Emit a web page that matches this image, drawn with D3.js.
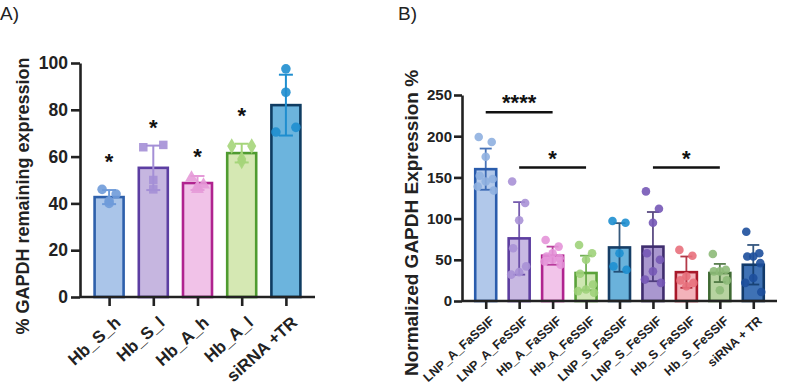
<!DOCTYPE html>
<html>
<head>
<meta charset="utf-8">
<script src="https://cdn.jsdelivr.net/npm/d3@7"></script>
<style>
  body { margin: 0; background: #fff; }
  text { font-family: "Liberation Sans", Arial, sans-serif; }
</style>
</head>
<body>
<script>
// ---- Panel A data ----
var catsA   = ["Hb_S_h", "Hb_S_l", "Hb_A_h", "Hb_A_l", "siRNA +TR"];
var meansA  = [42.7, 55.2, 48.7, 61.5, 82];
var sdA     = [3, 9.5, 3, 4, 13];
var pointsA = [
  [46, 44, 40, 41],
  [64, 65, 50, 46],
  [51, 47, 48, 46],
  [64.5, 64.5, 59, 58],
  [97.5, 87.5, 70.5, 72.5]
];
var sigA    = [60, 74.5, 62, 79.5];   // star heights over first four bars
var ticksA  = [0, 20, 40, 60, 80, 100];

// ---- Panel B data ----
var catsB   = ["LNP_A_FaSSIF", "LNP_A_FeSSIF", "Hb_A_FaSSIF", "Hb_A_FeSSIF", "LNP_S_FaSSIF",
               "LNP_S_FeSSIF", "Hb_S_FaSSIF", "Hb_S_FeSSIF", "siRNA + TR"];
var meansB  = [160, 76, 55, 34, 65, 66, 35, 34, 44];
var sdB     = [25, 44, 11, 21, 29.5, 42, 19, 11, 24];
var pointsB = [
  [199, 193, 175, 152, 148, 145, 139, 134],
  [145, 119, 98, 64, 42, 35, 32],
  [74, 66, 58, 54, 52, 50, 48, 44],
  [68, 58, 50, 33, 20, 14, 12, 10],
  [97, 95, 58, 42, 38],
  [133, 112, 95, 58, 50, 36, 26, 22],
  [62, 55, 30, 25, 22, 18],
  [57, 38, 36, 36, 25, 13],
  [84, 58, 54, 54, 46, 28, 22, 11]
];
var ticksB  = [0, 50, 100, 150, 200, 250];
var sigB    = [ {from: 0, to: 2, y: 229, label: "****"},
                {from: 1, to: 3, y: 162, label: "*"},
                {from: 5, to: 7, y: 162, label: "*"} ];

// colours
var fillA   = ["#aac5e9", "#c6b6e0", "#f1c2e8", "#d5e8b3", "#6cb4dd"];
var strokeA = ["#2e60ab", "#5c3ea2", "#b0238f", "#4f9b30", "#0f3c62"];
var dotA    = ["#6f9bd9", "#a48fd6", "#e59ad8", "#a5d57a", "#1f8ecf"];
var fillB   = ["#b1c8ea", "#c8b8e2", "#f2c4ea", "#cfe7b3", "#6ab2db", "#a997cf", "#f3b2ba", "#b7d3a0", "#3f72b5"];
var strokeB = ["#2a5cac", "#5d3ea0", "#b0248f", "#5aa23a", "#163e66", "#3f2d6e", "#a8182a", "#3f6a33", "#123a6a"];
var dotB    = ["#8fb0e0", "#a891d6", "#e493d8", "#9fd27a", "#1e8fd0", "#7658b6", "#e8707c", "#8dba78", "#1d4f9c"];

var svg = d3.select("body").append("svg")
    .attr("width", 787)
    .attr("height", 392);

var axisColor = "#222";

// panel letters
svg.append("text").attr("x", 0).attr("y", 20).text("A)")
    .attr("font-size", "19px").attr("fill", "#222");
svg.append("text").attr("x", 398).attr("y", 20).text("B)")
    .attr("font-size", "19px").attr("fill", "#222");

function styleAxis(g) {
  g.select(".domain").attr("stroke", axisColor).attr("stroke-width", 2.6);
  g.selectAll(".tick line").attr("stroke", axisColor).attr("stroke-width", 2.6);
  g.selectAll(".tick text").attr("fill", "#222").attr("font-weight", "bold")
    .attr("font-family", "'Liberation Sans', Arial, sans-serif");
}

////////////////////////////
// Panel A
var yA = d3.scaleLinear().domain([0, 100]).range([297, 63]);
var xA = d3.scalePoint().domain(catsA).range([87, 308]).padding(0.5);
var gA = svg.append("g");

gA.append("g")
    .attr("transform", "translate(80,0)")
    .call(d3.axisLeft(yA).tickValues(ticksA).tickSize(9).tickPadding(3).tickSizeOuter(0))
    .call(styleAxis)
    .selectAll(".tick text").attr("font-size", "17.5px");

var barW_A = 29;
gA.selectAll("rect.barA")
    .data(meansA).enter().append("rect")
    .attr("class", "barA")
    .attr("x", function(d, i) { return xA(catsA[i]) - barW_A / 2; })
    .attr("y", function(d) { return yA(d); })
    .attr("width", barW_A)
    .attr("height", function(d) { return yA(0) - yA(d); })
    .attr("fill", function(d, i) { return fillA[i]; })
    .attr("stroke", function(d, i) { return strokeA[i]; })
    .attr("stroke-width", 2.6);

// error bars A
catsA.forEach(function(c, i) {
  var cx = xA(c), lo = meansA[i] - sdA[i], hi = meansA[i] + sdA[i];
  var g = gA.append("g").attr("stroke", dotA[i]).attr("stroke-width", 2);
  g.append("line").attr("x1", cx).attr("x2", cx).attr("y1", yA(lo)).attr("y2", yA(hi));
  g.append("line").attr("x1", cx - 7).attr("x2", cx + 7).attr("y1", yA(hi)).attr("y2", yA(hi));
  g.append("line").attr("x1", cx - 7).attr("x2", cx + 7).attr("y1", yA(lo)).attr("y2", yA(lo));
});

// points A, different marker per group
var symA = [d3.symbolCircle, d3.symbolSquare, d3.symbolTriangle, d3.symbolDiamond, d3.symbolCircle];
var jitA = [[-7, 7, 0, 0], [-10, 10, 0, 0], [-6, 0, 6, 0], [-10, 10, 0, 0], [0, 0, -10, 10]];
catsA.forEach(function(c, i) {
  gA.selectAll("path.ptA" + i)
    .data(pointsA[i]).enter().append("path")
    .attr("d", d3.symbol().type(symA[i]).size(72))
    .attr("transform", function(d, j) { return "translate(" + (xA(c) + jitA[i][j]) + "," + yA(d) + ")"; })
    .attr("fill", dotA[i])
    .attr("opacity", 0.9);
});

// x axis A
gA.append("g")
    .attr("transform", "translate(0," + yA(0) + ")")
    .call(d3.axisBottom(xA).tickSize(9).tickSizeOuter(0))
    .call(function(g) {
      g.select(".domain").attr("d", "M80,0H315");
    })
    .call(styleAxis)
    .selectAll(".tick text")
      .attr("font-size", "17px")
      .attr("text-anchor", "end")
      .attr("x", 0).attr("y", 0).attr("dy", null)
      .attr("transform", "translate(12,27) rotate(-42)");

// stars A
gA.selectAll("text.starA")
    .data(sigA).enter().append("text")
    .attr("class", "starA")
    .attr("x", function(d, i) { return xA(catsA[i]); })
    .attr("y", function(d) { return yA(d) + 12; })
    .attr("text-anchor", "middle")
    .attr("font-size", "22px").attr("font-weight", "bold").attr("fill", "#111")
    .text("*");

// y label A
svg.append("text")
    .attr("transform", "translate(29,196) rotate(-90)")
    .attr("text-anchor", "middle")
    .attr("font-size", "18px").attr("font-weight", "bold").attr("fill", "#222")
    .text("% GAPDH remaining expression");

////////////////////////////
// Panel B
var yB = d3.scaleLinear().domain([0, 250]).range([301, 95]);
var xB = d3.scalePoint().domain(catsB).range([469, 770]).padding(0.5);
var gB = svg.append("g");

gB.append("g")
    .attr("transform", "translate(462,0)")
    .call(d3.axisLeft(yB).tickValues(ticksB).tickSize(8).tickPadding(2).tickSizeOuter(0))
    .call(styleAxis)
    .selectAll(".tick text").attr("font-size", "15px");

var barW_B = 21;
gB.selectAll("rect.barB")
    .data(meansB).enter().append("rect")
    .attr("class", "barB")
    .attr("x", function(d, i) { return xB(catsB[i]) - barW_B / 2; })
    .attr("y", function(d) { return yB(d); })
    .attr("width", barW_B)
    .attr("height", function(d) { return yB(0) - yB(d); })
    .attr("fill", function(d, i) { return fillB[i]; })
    .attr("stroke", function(d, i) { return strokeB[i]; })
    .attr("stroke-width", 2.6);

// error bars B
catsB.forEach(function(c, i) {
  var cx = xB(c), lo = Math.max(0, meansB[i] - sdB[i]), hi = meansB[i] + sdB[i];
  var g = gB.append("g").attr("stroke", strokeB[i]).attr("stroke-width", 1.8).attr("opacity", 0.85);
  g.append("line").attr("x1", cx).attr("x2", cx).attr("y1", yB(lo)).attr("y2", yB(hi));
  g.append("line").attr("x1", cx - 6).attr("x2", cx + 6).attr("y1", yB(hi)).attr("y2", yB(hi));
  g.append("line").attr("x1", cx - 6).attr("x2", cx + 6).attr("y1", yB(lo)).attr("y2", yB(lo));
});

// points B
var jitB = [-7, 6, 0, -6, 7, 0, -8, 8];
catsB.forEach(function(c, i) {
  gB.selectAll("circle.ptB" + i)
    .data(pointsB[i]).enter().append("circle")
    .attr("cx", function(d, j) { return xB(c) + jitB[j % jitB.length]; })
    .attr("cy", function(d) { return yB(d); })
    .attr("r", 4.3)
    .attr("fill", dotB[i])
    .attr("opacity", 0.9);
});

// x axis B
gB.append("g")
    .attr("transform", "translate(0," + yB(0) + ")")
    .call(d3.axisBottom(xB).tickSize(8).tickSizeOuter(0))
    .call(function(g) {
      g.select(".domain").attr("d", "M462,0H777");
    })
    .call(styleAxis)
    .selectAll(".tick text")
      .attr("font-size", "12.5px")
      .attr("text-anchor", "end")
      .attr("x", 0).attr("y", 0).attr("dy", null)
      .attr("transform", "translate(9,21) rotate(-42)");

// significance lines B
sigB.forEach(function(s) {
  var x1 = xB(catsB[s.from]), x2 = xB(catsB[s.to]);
  gB.append("line")
    .attr("x1", x1).attr("x2", x2)
    .attr("y1", yB(s.y)).attr("y2", yB(s.y))
    .attr("stroke", "#111").attr("stroke-width", 2.6);
  gB.append("text")
    .attr("x", (x1 + x2) / 2)
    .attr("y", yB(s.y) - 2)
    .attr("text-anchor", "middle")
    .attr("font-size", "22px").attr("font-weight", "bold").attr("fill", "#111")
    .text(s.label);
});

// y label B
svg.append("text")
    .attr("transform", "translate(418,223) rotate(-90)")
    .attr("text-anchor", "middle")
    .attr("font-size", "19px").attr("font-weight", "bold").attr("fill", "#222")
    .text("Normalized GAPDH Expression %");
</script>
</body>
</html>
